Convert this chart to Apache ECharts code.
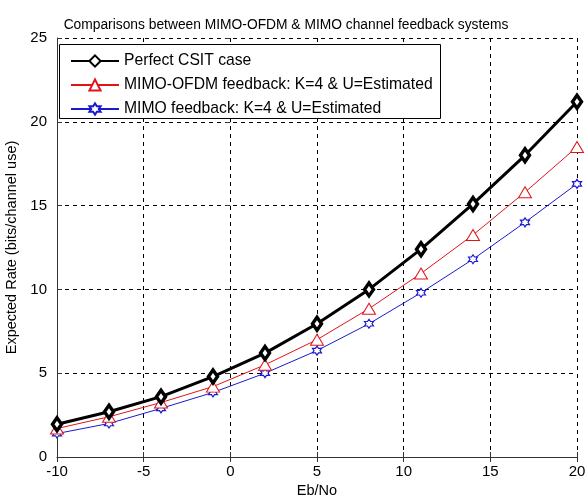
<!DOCTYPE html>
<html>
<head>
<meta charset="utf-8">
<script src="https://cdn.jsdelivr.net/npm/echarts@6/dist/echarts.min.js"></script>
<style>
  html, body { margin: 0; padding: 0; background: #fff; }
  #main { width: 587px; height: 497px; }
</style>
</head>
<body>
<div id="main"></div>
<script>
// Eb/No points
var ebno = [-10, -7, -4, -1, 2, 5, 8, 11, 14, 17, 20];
// expected rate
var perfectCsit = [1.95, 2.7, 3.6, 4.8, 6.2, 7.95, 10.0, 12.4, 15.1, 18.0, 21.2];
var mimoOfdm = [1.7, 2.4, 3.25, 4.2, 5.5, 7.0, 8.85, 10.95, 13.25, 15.8, 18.5];
var mimoOnly = [1.4, 2.0, 2.9, 3.85, 5.0, 6.35, 7.95, 9.8, 11.8, 14.0, 16.3];
var seriesNames = ['Perfect CSIT case', 'MIMO-OFDM feedback: K=4 & U=Estimated', 'MIMO feedback: K=4 & U=Estimated'];

function pairs(ys) {
  return ebno.map(function (x, i) { return [x, ys[i]]; });
}

// six pointed star, used for the MIMO curve
var hexagram = 'path://M0,-10L2.9,-5L8.66,-5L5.8,0L8.66,5L2.9,5L0,10L-2.9,5L-8.66,5L-5.8,0L-8.66,-5L-2.9,-5Z';

var font = 'Arial, "Liberation Sans", sans-serif';
var gridStyle = { color: '#000', type: [4, 4], width: 1 };
var tickStyle = { color: '#333' };

var chart = echarts.init(document.getElementById('main'));
var option = {
  animation: false,
  backgroundColor: '#fff',
  title: {
    text: 'Comparisons between MIMO-OFDM & MIMO channel feedback systems',
    left: 281, top: 13, textAlign: 'center',
    textStyle: { fontFamily: font, fontSize: 13.8, fontWeight: 'normal', color: '#000' }
  },
  // legend frame
  graphic: [{
    type: 'rect', left: 59, top: 44, z: 10,
    shape: { width: 381, height: 74 },
    style: { fill: '#fff', stroke: '#000', lineWidth: 1 }
  }],
  legend: {
    orient: 'vertical',
    left: 70, top: 53, z: 20,
    padding: 0,
    itemGap: 8,
    itemWidth: 48, itemHeight: 14,
    textStyle: { fontFamily: font, fontSize: 15.7, color: '#000', lineHeight: 14 },
    data: seriesNames
  },
  grid: { left: 57, right: 10, top: 38, bottom: 40, outerBoundsMode: 'none' },
  xAxis: [{
    type: 'value', min: -10, max: 20, interval: 5,
    name: 'Eb/No', nameLocation: 'middle', nameGap: 26,
    nameTextStyle: { fontFamily: font, fontSize: 14.5, color: '#000' },
    axisLine: { onZero: false, lineStyle: { color: '#333', width: 1 } },
    axisTick: { inside: true, length: 5, lineStyle: tickStyle },
    axisLabel: { fontFamily: font, fontSize: 15, color: '#000', margin: 7 },
    splitLine: { show: true, lineStyle: gridStyle }
  }, {
    type: 'value', position: 'top', min: -10, max: 20, interval: 5,
    axisLine: { show: false },
    axisTick: { inside: true, length: 5, lineStyle: tickStyle },
    axisLabel: { show: false },
    splitLine: { show: false }
  }],
  yAxis: [{
    type: 'value', min: 0, max: 25, interval: 5,
    name: 'Expected Rate (bits/channel use)', nameLocation: 'middle', nameGap: 37,
    nameTextStyle: { fontFamily: font, fontSize: 14.5, color: '#000' },
    axisLine: { show: true, onZero: false, lineStyle: { color: '#333', width: 1 } },
    axisTick: { show: true, inside: true, length: 5, lineStyle: tickStyle },
    axisLabel: { fontFamily: font, fontSize: 15, color: '#000', margin: 10 },
    splitLine: { show: true, lineStyle: gridStyle }
  }, {
    type: 'value', position: 'right', min: 0, max: 25, interval: 5,
    axisLine: { show: false },
    axisTick: { show: true, inside: true, length: 5, lineStyle: tickStyle },
    axisLabel: { show: false },
    splitLine: { show: false }
  }],
  series: [
    {
      name: seriesNames[0], type: 'line', data: pairs(perfectCsit), z: 5,
      symbol: 'diamond', symbolSize: [9, 13],
      lineStyle: { color: '#000', width: 3 },
      itemStyle: { color: '#fff', borderColor: '#000', borderWidth: 3.5 }
    },
    {
      name: seriesNames[1], type: 'line', data: pairs(mimoOfdm), z: 4,
      symbol: 'triangle', symbolSize: [13, 11],
      lineStyle: { color: '#e0141a', width: 1 },
      itemStyle: { color: '#fff', borderColor: '#e0141a', borderWidth: 1 }
    },
    {
      name: seriesNames[2], type: 'line', data: pairs(mimoOnly), z: 3,
      symbol: hexagram, symbolSize: 9,
      lineStyle: { color: '#1a1ad0', width: 1 },
      itemStyle: { color: '#fff', borderColor: '#1a1ad0', borderWidth: 1.2 }
    }
  ]
};
chart.setOption(option);
</script>
</body>
</html>
